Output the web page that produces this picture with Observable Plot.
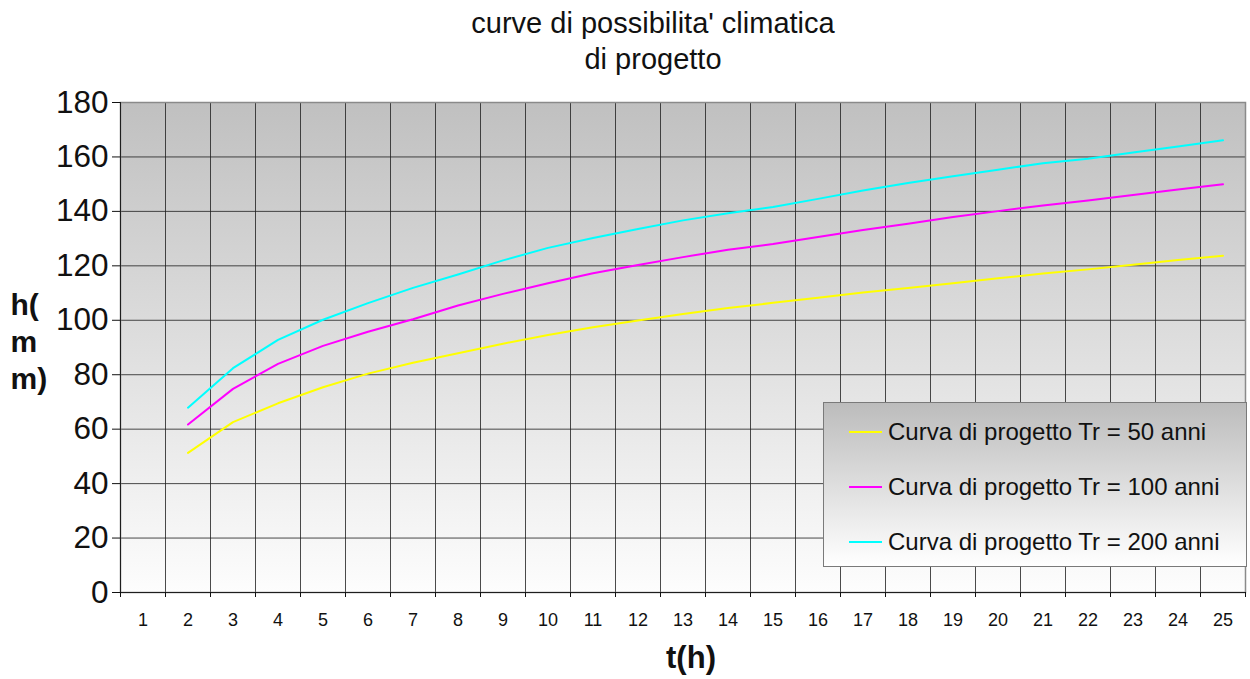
<!DOCTYPE html>
<html><head><meta charset="utf-8">
<script src="https://cdn.jsdelivr.net/npm/d3@7"></script>
<script src="https://cdn.jsdelivr.net/npm/@observablehq/plot@0.6"></script>
<style>
body{margin:0;background:#fff;font-family:"Liberation Sans",Arial,sans-serif;}
#wrap{position:relative;width:1250px;height:679px;overflow:hidden;}
#title{height:80px;box-sizing:border-box;padding-top:5px;padding-left:56px;text-align:center;font-size:29px;line-height:36px;color:#111;}
#legend{position:absolute;left:823px;top:402px;width:424px;height:165px;box-sizing:border-box;border:1px solid #7a7a7a;background:linear-gradient(#bcbcbc,#ffffff);}
.item{position:absolute;left:25px;height:30px;display:flex;align-items:center;font-size:24px;color:#111;white-space:nowrap;}
.sw{width:33px;height:2px;margin-right:6px;}
svg{display:block;}
</style></head>
<body>
<div id="wrap">
<div id="title">curve di possibilita' climatica<br>di progetto</div>
<div id="chart"></div>
<div id="legend"></div>
</div>
<script>
const categories = [1,2,3,4,5,6,7,8,9,10,11,12,13,14,15,16,17,18,19,20,21,22,23,24,25];
const hours = [2,3,4,5,6,7,8,9,10,11,12,13,14,15,16,17,18,19,20,21,22,23,24,25];
const tr50  = [51.3,62.6,69.5,75.4,80.4,84.4,87.9,91.4,94.6,97.4,99.9,102.3,104.5,106.4,108.3,110.2,111.9,113.6,115.4,117.2,118.7,120.4,122.1,123.7];
const tr100 = [61.7,74.8,84.0,90.6,95.8,100.4,105.4,109.7,113.6,117.3,120.3,123.2,125.9,128.0,130.6,133.2,135.5,137.9,140.1,142.2,144.0,146.0,148.0,150.0];
const tr200 = [67.9,82.4,92.8,100.2,106.3,111.9,116.8,122.0,126.6,130.2,133.5,136.7,139.3,141.6,144.6,147.7,150.4,152.9,155.3,157.7,159.3,161.6,163.8,166.1];
const seriesNames = ["Curva di progetto Tr = 50 anni","Curva di progetto Tr = 100 anni","Curva di progetto Tr = 200 anni"];
const seriesColors = ["#ffff00","#ff00ff","#00ffff"];
const yTicks = [0,20,40,60,80,100,120,140,160,180];
const xLabel = "t(h)";
const yLabel = "h(\nm\nm)";

const seriesValues = [tr50, tr100, tr200];
const rows = [];
seriesValues.forEach((vals, s) => vals.forEach((v, i) => rows.push({t: hours[i], h: v, serie: seriesNames[s]})));
const boundaries = [0, ...categories].map(c => c + 0.5);

const svg = Plot.plot({
  width: 1250, height: 599,
  marginTop: 22, marginBottom: 87, marginLeft: 120, marginRight: 5,
  style: {fontFamily: '"Liberation Sans", Arial, sans-serif', color: "#111", background: "transparent", overflow: "visible"},
  x: {domain: [0.5, 25.5]},
  y: {domain: [0, 180]},
  color: {domain: seriesNames, range: seriesColors},
  marks: [
    Plot.frame({fill: "url(#bg)", stroke: "none"}),
    Plot.gridY(yTicks, {stroke: "#1e1e1e", strokeOpacity: 0.8}),
    Plot.gridX(boundaries, {stroke: "#1e1e1e", strokeOpacity: 0.8}),
    Plot.frame({stroke: "#8a8a8a", strokeWidth: 1.5}),
    Plot.ruleY([0], {stroke: "#1e1e1e"}),
    Plot.ruleX([0.5], {stroke: "#1e1e1e"}),
    Plot.axisY({ticks: yTicks, tickSize: 8, tickPadding: 4, fontSize: 31.5, label: null}),
    Plot.axisX({ticks: categories, tickSize: 0, tickPadding: 21, fontSize: 18, label: null}),
    Plot.axisX({ticks: boundaries, tickSize: 5, tickFormat: () => "", label: null}),
    Plot.line(rows, {x: "t", y: "h", stroke: "serie", strokeWidth: 2}),
    Plot.text([yLabel], {text: d => d, frameAnchor: "left", dx: -110, dy: -7, textAnchor: "start", fontSize: 30, fontWeight: "bold", lineHeight: 1.23}),
    Plot.text([xLabel], {text: d => d, frameAnchor: "bottom", dy: 75, dx: 8, fontSize: 31, fontWeight: "bold"})
  ]
});
d3.select(svg).insert("defs", ":first-child").html(
  '<linearGradient id="bg" x1="0" y1="0" x2="0" y2="1"><stop offset="0" stop-color="#c0c0c0"/><stop offset="1" stop-color="#fdfdfd"/></linearGradient>'
);
document.getElementById("chart").appendChild(svg);

const legend = d3.select("#legend");
seriesNames.forEach((name, i) => {
  const it = legend.append("div").attr("class", "item").style("top", (14 + i * 55) + "px");
  it.append("div").attr("class", "sw").style("background", seriesColors[i]);
  it.append("span").text(name);
});
</script>
</body></html>
